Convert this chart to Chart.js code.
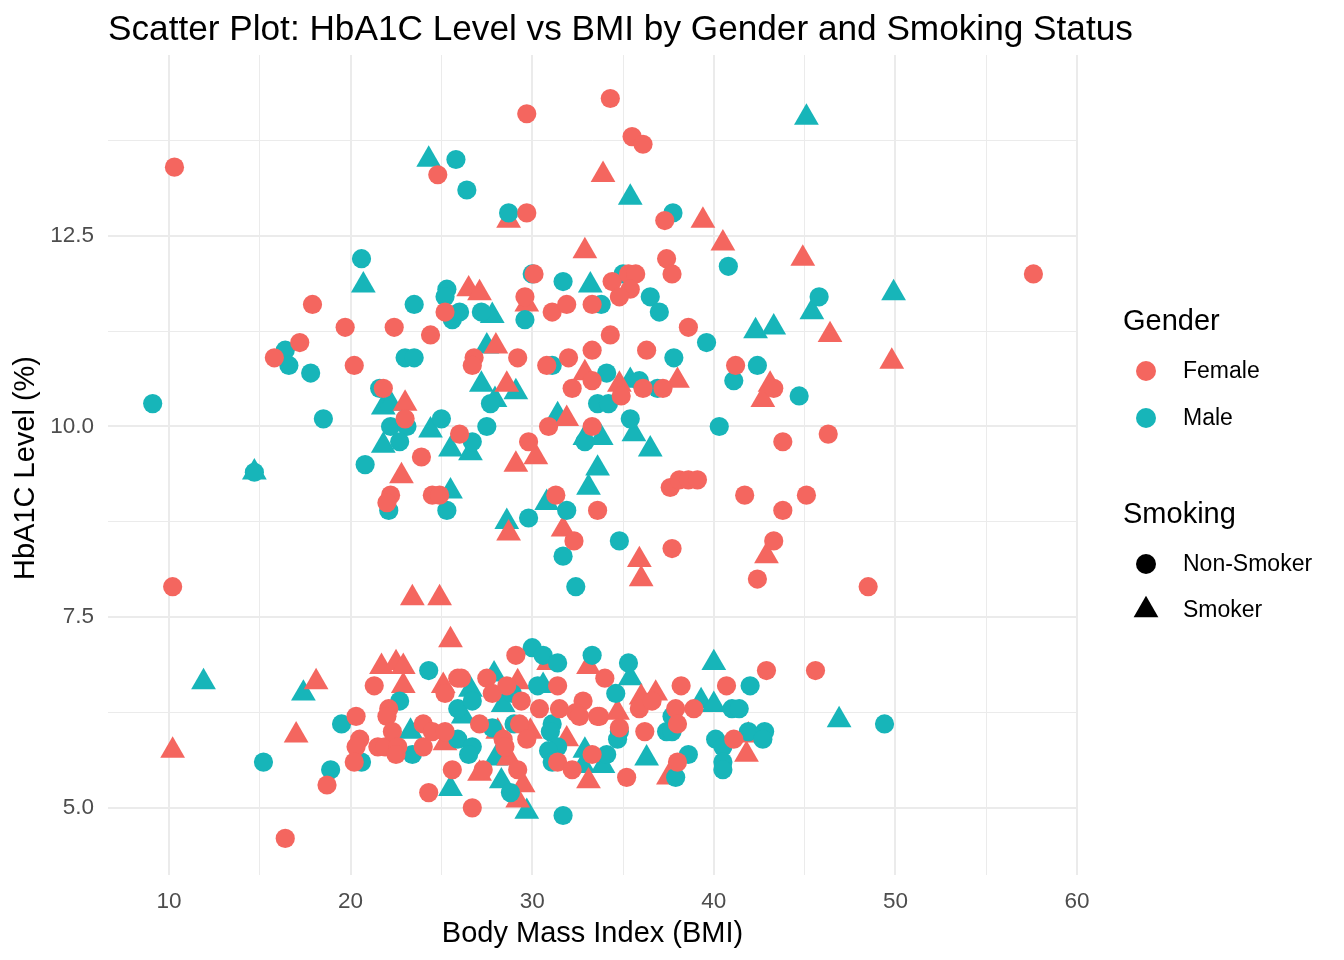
<!DOCTYPE html>
<html>
<head>
<meta charset="utf-8">
<script src="https://cdn.jsdelivr.net/npm/chart.js@4.4.1/dist/chart.umd.min.js"></script>
<style>
html,body{margin:0;padding:0;background:#fff;}
#wrap{width:1344px;height:960px;position:relative;}
</style>
</head>
<body>
<div id="wrap"><canvas id="c" width="1344" height="960"></canvas></div>
<script>
// ---- Data (BMI, HbA1C) ----
const femaleNonSmoker = [
[10.3,13.4],[34.3,14.3],[29.7,14.1],[35.5,13.8],[36.1,13.7],[24.8,13.3],[29.7,12.8],[37.3,12.7],[37.4,12.2],[30.1,12.0],
[57.6,12.0],[34.4,11.9],[35.3,12.0],[35.7,12.0],[35.4,11.8],[34.8,11.7],[37.7,12.0],[29.6,11.7],[31.1,11.5],[31.9,11.6],
[33.3,11.6],[25.2,11.5],[17.9,11.6],[19.7,11.3],[22.4,11.3],[24.4,11.2],[17.2,11.1],[15.8,10.9],[20.2,10.8],[21.8,10.5],
[34.3,11.2],[38.6,11.3],[26.8,10.9],[26.7,10.8],[29.2,10.9],[30.8,10.8],[32.0,10.9],[33.3,11.0],[36.3,11.0],[41.2,10.8],
[23.0,10.1],[23.9,9.6],[22.2,9.1],[22.0,9.0],[24.5,9.1],[24.9,9.1],[10.2,7.9],[32.2,10.5],[33.3,10.6],[34.9,10.4],
[36.1,10.5],[37.2,10.5],[30.9,10.0],[33.3,10.0],[26.0,9.9],[29.8,9.8],[37.6,9.2],[38.1,9.3],[38.6,9.3],[39.1,9.3],
[41.7,9.1],[31.3,9.1],[33.6,8.9],[32.3,8.5],[37.7,8.4],[43.3,10.5],[43.8,9.8],[46.3,9.9],[45.1,9.1],[43.8,8.9],
[43.3,8.5],[42.4,8.0],[48.5,7.9],
[16.4,4.6],[18.7,5.3],[20.3,6.2],[20.5,5.9],[20.3,5.8],[20.2,5.6],[21.3,6.6],[22.1,6.3],[22.0,6.2],[21.5,5.8],
[21.9,5.8],[22.3,6.0],[22.6,5.8],[22.5,5.7],[24.0,6.1],[24.5,6.0],[24.0,5.8],[25.2,6.5],[25.6,5.5],[24.3,5.2],
[25.9,6.7],[29.1,7.0],[34.0,6.7],[38.2,6.6],[40.7,6.6],[26.1,6.7],[27.5,6.7],[31.4,6.6],[27.8,6.5],[28.6,6.6],
[29.4,6.4],[30.4,6.3],[31.5,6.3],[32.8,6.4],[32.4,6.25],[33.7,6.2],[34.8,6.05],[35.9,6.3],[36.6,6.4],[37.9,6.3],
[38.0,6.1],[36.2,6.0],[38.9,6.3],[29.3,6.1],[27.1,6.1],[25.2,6.0],[32.6,6.2],[33.6,6.2],[28.4,5.9],[29.7,5.9],
[28.5,5.8],[31.4,5.6],[27.3,5.5],[29.2,5.5],[33.3,5.7],[32.2,5.5],[38.0,5.6],[35.2,5.4],[26.7,5.0],[42.9,6.8],
[45.6,6.8],[41.1,5.9]
];
const femaleSmoker = [
[28.7,12.7],[33.9,13.3],[39.4,12.7],[40.5,12.4],[32.9,12.3],[44.9,12.2],[26.5,11.8],[27.1,11.75],[29.7,11.6],[28.0,11.05],
[23.0,10.3],[28.6,10.55],[32.9,10.7],[34.8,10.55],[38.0,10.6],[31.9,10.1],[30.2,9.6],[29.1,9.5],[22.8,9.35],[28.7,8.6],
[31.7,8.65],[35.9,8.25],[36.0,8.0],[23.4,7.75],[24.9,7.75],[46.4,11.2],[49.8,10.85],[43.1,10.55],[42.7,10.35],[42.9,8.3],
[10.2,5.75],[18.1,6.65],[17.0,5.95],[21.7,6.85],[22.5,6.9],[22.9,6.85],[22.9,6.6],[25.1,6.6],[25.5,7.2],[25.2,5.85],
[30.9,6.9],[33.1,6.85],[36.0,6.45],[36.8,6.5],[29.2,6.65],[28.1,6.0],[29.9,6.0],[31.9,5.9],[34.7,6.25],[28.7,5.65],
[37.5,5.4],[27.1,5.45],[29.5,5.3],[29.2,5.1],[33.1,5.35],[41.9,5.95],[41.8,5.7]
];
const maleNonSmoker = [
[25.8,13.5],[26.4,13.1],[28.7,12.8],[37.75,12.8],[20.6,12.2],[40.8,12.1],[30.0,12.0],[31.7,11.9],[35.0,12.0],[36.5,11.7],
[37.0,11.5],[45.8,11.7],[25.3,11.8],[25.2,11.7],[23.5,11.6],[26.0,11.5],[25.6,11.4],[27.2,11.5],[29.6,11.4],[33.8,11.6],
[39.6,11.1],[16.4,11.0],[16.6,10.8],[17.8,10.7],[23.0,10.9],[23.5,10.9],[21.6,10.5],[31.1,10.8],[37.8,10.9],[41.1,10.6],
[42.4,10.8],[44.7,10.4],[9.1,10.3],[27.7,10.3],[34.1,10.7],[35.9,10.6],[36.9,10.5],[33.6,10.3],[34.2,10.3],[35.4,10.1],
[40.3,10.0],[25.0,10.1],[26.7,9.8],[27.5,10.0],[32.9,9.8],[18.5,10.1],[22.2,10.0],[23.1,10.0],[22.7,9.8],[20.8,9.5],
[14.7,9.4],[22.1,8.9],[25.3,8.9],[31.9,8.9],[29.8,8.8],[31.7,8.3],[34.8,8.5],[32.4,7.9],
[15.2,5.6],[18.9,5.5],[19.5,6.1],[20.6,5.6],[22.7,6.4],[23.4,5.7],[24.3,6.8],[25.9,5.9],[25.9,6.3],[30.0,7.1],
[30.6,7.0],[31.4,6.9],[33.3,7.0],[35.3,6.9],[34.6,6.5],[42.0,6.6],[41.0,6.3],[30.3,6.6],[26.7,6.4],[28.9,6.5],
[37.7,6.2],[37.4,6.0],[37.7,6.0],[29.0,6.1],[27.8,6.05],[31.1,6.1],[31.0,6.0],[31.4,5.8],[34.8,6.0],[34.7,5.9],
[26.7,5.8],[26.5,5.7],[30.9,5.75],[31.1,5.6],[34.1,5.7],[38.6,5.7],[37.9,5.4],[28.8,5.2],[31.7,4.9],[41.4,6.3],
[41.9,6.0],[42.8,6.0],[42.7,5.9],[49.4,6.1],[40.1,5.9],[40.5,5.8],[40.5,5.6],[40.5,5.5]
];
const maleSmoker = [
[24.3,13.5],[35.4,13.0],[45.1,14.05],[20.7,11.85],[33.2,11.85],[27.8,11.45],[27.5,11.05],[42.3,11.25],[43.3,11.3],[45.4,11.5],
[49.9,11.75],[21.8,10.25],[22.2,10.3],[27.2,10.55],[29.1,10.45],[27.95,10.35],[35.4,10.6],[31.4,10.15],[35.6,9.9],[24.4,9.95],
[21.8,9.75],[25.5,9.7],[26.6,9.65],[32.9,9.85],[33.8,9.85],[36.5,9.7],[33.6,9.45],[33.1,9.2],[14.7,9.4],[25.5,9.15],
[30.8,9.0],[28.6,8.75],
[11.9,6.65],[17.4,6.5],[23.3,6.0],[25.5,5.25],[35.4,6.7],[40.0,6.9],[39.3,6.4],[40.0,6.35],[26.6,6.55],[27.9,6.75],
[30.6,6.6],[26.2,6.2],[28.4,6.35],[28.0,5.65],[32.9,5.75],[32.8,5.55],[33.9,5.55],[36.3,5.65],[28.3,5.35],[29.7,4.95],
[46.9,6.15]
];

const xTickValues = [10,15,20,25,30,35,40,45,50,55,60];
const xTickLabels = ['10','','20','','30','','40','','50','','60'];
const yTickValues = [5.0,6.25,7.5,8.75,10.0,11.25,12.5,13.75];
const yTickLabels = ['5.0','','7.5','','10.0','','12.5',''];

const genderLabels = ['Female','Male'];
const genderColors = ['#F4665F','#17B5B9'];
const smokingLabels = ['Non-Smoker','Smoker'];

const titleText = 'Scatter Plot: HbA1C Level vs BMI by Gender and Smoking Status';
const xTitle = 'Body Mass Index (BMI)';
const yTitle = 'HbA1C Level (%)';

const FONT = '"Liberation Sans", Arial, Helvetica, sans-serif';
const toPts = arr => arr.map(p => ({x:p[0], y:p[1]}));

function mkSet(label, data, color, shape){
  return {
    label, data: toPts(data),
    backgroundColor: color, borderWidth: 0,
    pointStyle: shape,
    pointRadius: shape === 'triangle' ? 14.3 : 9.6,
    pointHoverRadius: shape === 'triangle' ? 14.3 : 9.6
  };
}

const annot = {
  id: 'annot',
  afterDraw(chart){
    const c = chart.ctx, a = chart.chartArea;
    c.save();
    c.fillStyle = '#000';
    // title
    c.font = '35.2px ' + FONT;
    c.textAlign = 'left'; c.textBaseline = 'alphabetic';
    c.fillText(titleText, a.left, 40);
    // x title
    c.font = '29px ' + FONT;
    c.textAlign = 'center';
    c.fillText(xTitle, (a.left + a.right)/2, 942);
    // y title
    c.save();
    c.translate(34, (a.top + a.bottom)/2 + 3);
    c.rotate(-Math.PI/2);
    c.fillText(yTitle, 0, 0);
    c.restore();
    // legend
    const lx = 1123, sx = 1146, tx = 1183;
    c.textAlign = 'left';
    c.font = '29px ' + FONT;
    c.textBaseline = 'alphabetic';
    c.fillText('Gender', lx, 330);
    c.fillText('Smoking', lx, 523);
    c.font = '23px ' + FONT;
    c.textBaseline = 'middle';
    const gy = [371, 418];
    genderLabels.forEach((g,i) => {
      c.fillStyle = genderColors[i];
      c.beginPath(); c.arc(sx, gy[i], 10, 0, Math.PI*2); c.fill();
      c.fillStyle = '#000';
      c.fillText(g, tx, gy[i] + 1);
    });
    // non-smoker circle
    c.fillStyle = '#000';
    c.beginPath(); c.arc(sx, 564, 10, 0, Math.PI*2); c.fill();
    c.fillText(smokingLabels[0], tx, 565);
    // smoker triangle
    const r = 14.3, cy = 610;
    c.beginPath();
    c.moveTo(sx, cy - r);
    c.lineTo(sx + r*Math.sqrt(3)/2, cy + r/2);
    c.lineTo(sx - r*Math.sqrt(3)/2, cy + r/2);
    c.closePath(); c.fill();
    c.fillText(smokingLabels[1], tx, 611);
    c.restore();
  }
};

const gridW = (major) => (ctx) => {
  const v = ctx.tick ? ctx.tick.value : 0;
  return major(v) ? 2 : 1;
};

new Chart(document.getElementById('c'), {
  type: 'scatter',
  data: {
    datasets: [
      mkSet('Female Non-Smoker', femaleNonSmoker, genderColors[0], 'circle'),
      mkSet('Male Non-Smoker', maleNonSmoker, genderColors[1], 'circle'),
      mkSet('Female Smoker', femaleSmoker, genderColors[0], 'triangle'),
      mkSet('Male Smoker', maleSmoker, genderColors[1], 'triangle')
    ]
  },
  options: {
    responsive: false,
    animation: false,
    devicePixelRatio: 1,
    layout: { padding: { left: 0, top: 55, right: 267, bottom: 0 } },
    plugins: { legend: { display: false }, tooltip: { enabled: false }, title: { display: false } },
    scales: {
      x: {
        type: 'linear', min: 6.64, max: 60.0,
        afterBuildTicks: s => { s.ticks = xTickValues.map(v => ({value: v})); },
        afterFit: s => { s.height = 85; },
        border: { display: false },
        grid: { color: '#EBEBEB', lineWidth: gridW(v => Math.abs(v % 10) < 1e-6), drawTicks: false },
        ticks: {
          autoSkip: false, maxRotation: 0, padding: 13, color: '#4D4D4D',
          font: { family: FONT, size: 22.5 },
          callback: (v, i) => xTickLabels[i]
        }
      },
      y: {
        type: 'linear', min: 4.12, max: 14.87,
        afterBuildTicks: s => { s.ticks = yTickValues.map(v => ({value: v})); },
        afterFit: s => { s.width = 108; },
        border: { display: false },
        grid: { color: '#EBEBEB', lineWidth: gridW(v => Math.abs((v / 2.5) - Math.round(v / 2.5)) < 1e-6), drawTicks: false },
        ticks: {
          autoSkip: false, padding: 14, color: '#4D4D4D',
          font: { family: FONT, size: 22.5 },
          callback: (v, i) => yTickLabels[i]
        }
      }
    }
  },
  plugins: [annot]
});
</script>
</body>
</html>
